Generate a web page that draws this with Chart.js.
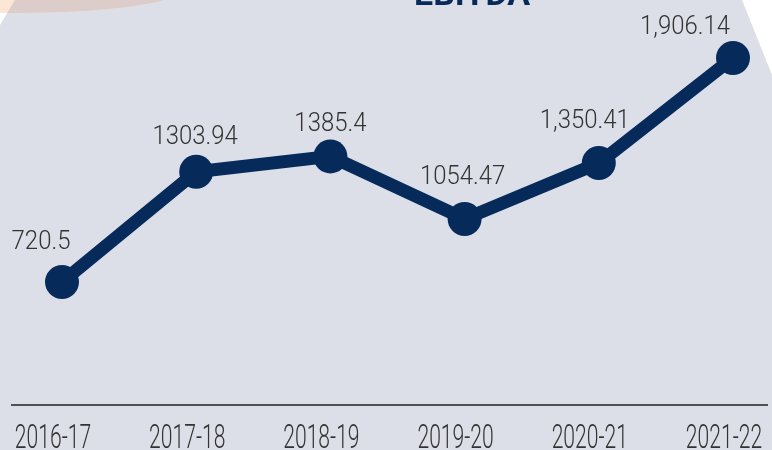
<!DOCTYPE html>
<html>
<head>
<meta charset="utf-8">
<script src="https://cdn.jsdelivr.net/npm/chart.js@4.4.1/dist/chart.umd.min.js"></script>
<style>
  html, body { margin:0; padding:0; background:#fff; }
  #wrap { width:772px; height:450px; position:relative; }
</style>
</head>
<body>
<div id="wrap"><canvas id="ebitdaChart"></canvas></div>
<script>
// data
const years = ['2016-17','2017-18','2018-19','2019-20','2020-21','2021-22']
const ebitda = [720.5, 1303.94, 1385.4, 1054.47, 1350.41, 1906.14]
const ebitdaText = ['720.5','1303.94','1385.4','1054.47','1,350.41','1,906.14']
const title = 'EBITDA'

const NAVY = '#062b5b'
const BG = '#dcdfe8'

// squeezed text, the original uses a condensed face
function narrowText(ctx, txt, x, y, sx){
  ctx.save()
  ctx.translate(x, y)
  ctx.scale(sx, 1)
  ctx.fillText(txt, 0, 0)
  ctx.restore()
}

const backdrop = {
  id:'backdrop',
  beforeDraw(chart){
    const ctx = chart.ctx, w = chart.width, h = chart.height
    ctx.save()
    ctx.fillStyle = '#fff'
    ctx.fillRect(0, 0, w, h)
    const panel = () => {
      ctx.beginPath()
      ctx.moveTo(15, 0); ctx.lineTo(742, 0); ctx.lineTo(772, 75)
      ctx.lineTo(772, h); ctx.lineTo(0, h); ctx.lineTo(0, 25); ctx.closePath()
    }
    panel(); ctx.fillStyle = BG; ctx.fill()
    // peach arc top-left
    ctx.beginPath()
    ctx.ellipse(20, -10, 160, 23, 0, 0, Math.PI*2)
    ctx.clip()
    ctx.fillStyle = '#fde6d4'; ctx.fillRect(0, 0, w, 40)
    panel(); ctx.fillStyle = '#dccdca'; ctx.fill()
    ctx.restore()

    // cut-off heading
    ctx.save()
    ctx.fillStyle = NAVY
    ctx.font = 'bold 34px Roboto, "Liberation Sans", sans-serif'
    ctx.textAlign = 'center'
    ctx.textBaseline = 'alphabetic'
    ctx.fillText(title, 472, 5)
    ctx.restore()
  }
}

const labelsAndAxis = {
  id:'labelsAndAxis',
  afterDatasetsDraw(chart, args, opts){
    const ctx = chart.ctx
    const xs = chart.scales.x, ys = chart.scales.y
    const base = chart.chartArea.bottom
    ctx.save()
    // axis line
    ctx.strokeStyle = '#222'
    ctx.lineWidth = 1.5
    ctx.beginPath(); ctx.moveTo(11, base); ctx.lineTo(768, base); ctx.stroke()

    ctx.fillStyle = '#333'
    ctx.textAlign = 'center'
    ctx.textBaseline = 'alphabetic'
    // category labels
    ctx.font = '300 33px Roboto, sans-serif'
    years.forEach((y, i) => {
      narrowText(ctx, y, xs.getPixelForValue(i) + opts.tickShift, base + 43, 0.64)
    })
    // value labels
    ctx.font = '300 26px Roboto, sans-serif'
    ebitda.forEach((v, i) => {
      const px = xs.getPixelForValue(i), py = ys.getPixelForValue(v)
      narrowText(ctx, ebitdaText[i], px + opts.dx[i], py - opts.dy[i], 0.92)
    })
    ctx.restore()
  }
}

new Chart(document.getElementById('ebitdaChart'), {
  type:'line',
  data:{ labels:years, datasets:[{
    data:ebitda,
    borderColor:NAVY, backgroundColor:NAVY,
    borderWidth:13, pointRadius:17, pointHoverRadius:17,
    pointBackgroundColor:NAVY, pointBorderWidth:0,
    tension:0, clip:false
  }]},
  options:{
    responsive:true, maintainAspectRatio:false, animation:false,
    layout:{ autoPadding:false, padding:{ left:62, right:39, top:0, bottom:45 } },
    scales:{
      x:{ display:false, offset:false },
      y:{ display:false, min:70, max:2213 }
    },
    plugins:{
      legend:{display:false}, tooltip:{enabled:false},
      labelsAndAxis:{ tickShift:-9, dx:[-21,-1,0,-2,-14,-48], dy:[33,28,25,35,35,24] }
    }
  },
  plugins:[backdrop, labelsAndAxis]
})
</script>
</body>
</html>
